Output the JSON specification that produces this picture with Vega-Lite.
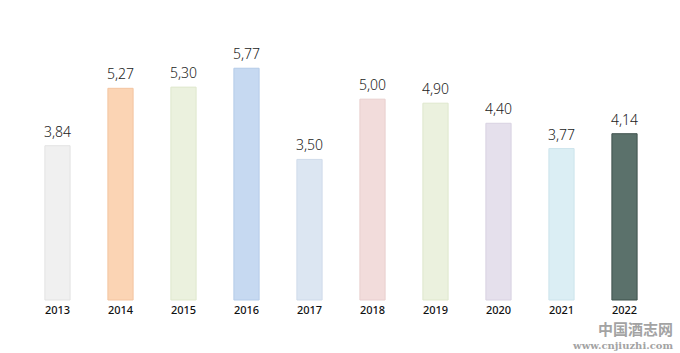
{
  "$schema": "https://vega.github.io/schema/vega-lite/v6.json",
  "autosize": "none",
  "width": 630,
  "height": 241,
  "padding": {"left": 26, "top": 59, "right": 24, "bottom": 53},
  "background": "white",
  "config": {
    "view": {"stroke": null},
    "locale": {"number": {"decimal": ",", "thousands": ".", "grouping": [3], "currency": ["", ""]}}
  },
  "title": {
    "text": "中国酒志网",
    "subtitle": "www.cnjiuzhi.com",
    "orient": "bottom",
    "anchor": "end",
    "offset": 8,
    "dx": 17,
    "font": "Noto Sans CJK SC",
    "fontSize": 15,
    "lineHeight": 15,
    "fontWeight": "bold",
    "color": "#a3a3a3",
    "subtitleFont": "DejaVu Serif",
    "subtitleFontSize": 10,
    "subtitleLineHeight": 10,
    "subtitleFontWeight": "bold",
    "subtitleColor": "#a3a3a3",
    "subtitlePadding": 3
  },
  "data": {
    "values": [
      {"year": "2013", "value": 3.84, "fill": "#f0f0f0", "stroke": "#e2e2e2"},
      {"year": "2014", "value": 5.27, "fill": "#fbd4b4", "stroke": "#f3c4a0"},
      {"year": "2015", "value": 5.30, "fill": "#ebf1de", "stroke": "#dfe7cd"},
      {"year": "2016", "value": 5.77, "fill": "#c6d9f1", "stroke": "#b4cbe8"},
      {"year": "2017", "value": 3.50, "fill": "#dce6f2", "stroke": "#cfdbea"},
      {"year": "2018", "value": 5.00, "fill": "#f2dcdb", "stroke": "#e8cfce"},
      {"year": "2019", "value": 4.90, "fill": "#ebf1de", "stroke": "#dfe7cd"},
      {"year": "2020", "value": 4.40, "fill": "#e5e0ec", "stroke": "#d8d2e2"},
      {"year": "2021", "value": 3.77, "fill": "#dbeef4", "stroke": "#cde4ec"},
      {"year": "2022", "value": 4.14, "fill": "#5b716b", "stroke": "#3f524d"}
    ]
  },
  "encoding": {
    "x": {
      "field": "year",
      "type": "nominal",
      "sort": null,
      "scale": {"paddingInner": 0.6, "paddingOuter": 0.3},
      "axis": {
        "title": null,
        "labelAngle": 0,
        "domain": false,
        "ticks": false,
        "labelPadding": 4,
        "labelFont": "Noto Sans",
        "labelFontSize": 11,
        "labelFontWeight": 500,
        "labelColor": "#111111"
      }
    },
    "y": {
      "field": "value",
      "type": "quantitative",
      "scale": {"domain": [0, 6], "nice": false},
      "axis": null
    }
  },
  "layer": [
    {
      "mark": {"type": "bar", "strokeWidth": 1},
      "encoding": {
        "fill": {"field": "fill", "type": "nominal", "scale": null},
        "stroke": {"field": "stroke", "type": "nominal", "scale": null}
      }
    },
    {
      "mark": {"type": "text", "baseline": "bottom", "dy": -6, "font": "Noto Sans", "fontSize": 14, "fontWeight": 300, "color": "#222222"},
      "encoding": {
        "text": {"field": "value", "type": "quantitative", "format": ".2f"}
      }
    }
  ]
}
